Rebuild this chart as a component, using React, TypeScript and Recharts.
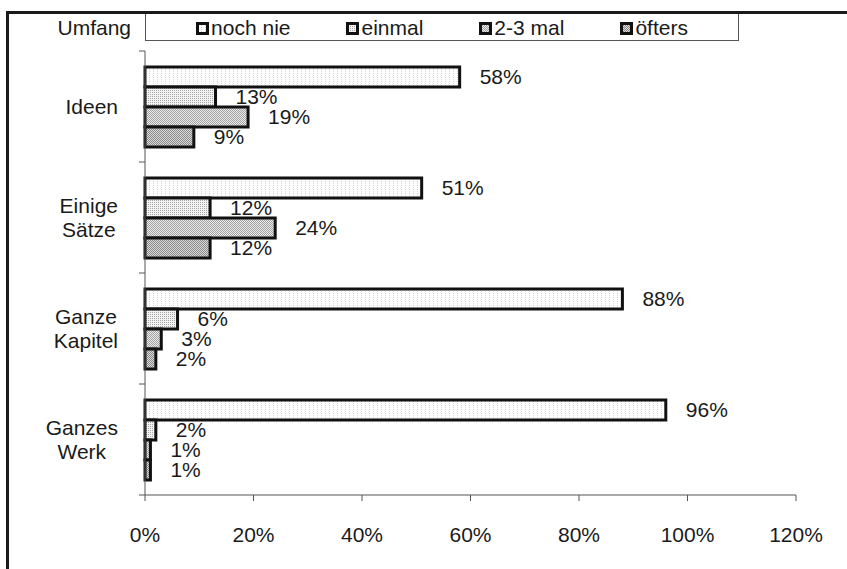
import { BarChart, Bar, XAxis, YAxis, LabelList } from "recharts";

const categories = ["Ideen", "Einige Sätze", "Ganze Kapitel", "Ganzes Werk"];
const nochNie = [58, 51, 88, 96];
const einmal = [13, 12, 6, 2];
const zweiDreiMal = [19, 24, 3, 1];
const oefters = [9, 12, 2, 1];
const seriesNames = ["noch nie", "einmal", "2-3 mal", "öfters"];
const xTicks = [0, 20, 40, 60, 80, 100, 120];

const WIDTH = 847;
const HEIGHT = 569;
const MARGIN = { top: 51, right: 51, bottom: 0, left: 0 };
const X_AXIS_HEIGHT = 74;
const Y_AXIS_WIDTH = 145;
const PLOT_HEIGHT = HEIGHT - MARGIN.top - MARGIN.bottom - X_AXIS_HEIGHT;
const FONT = '"Liberation Sans", Arial, sans-serif';
const FONT_SIZE = 21;
const INK = "#1a1a1a";
const AXIS = "#555";

const data = categories.map((name, i) => ({
  name,
  s0: nochNie[i],
  s1: einmal[i],
  s2: zweiDreiMal[i],
  s3: oefters[i],
}));

const ctx = document.createElement("canvas").getContext("2d");
function textWidth(s: string) {
  if (!ctx) return s.length * 10;
  ctx.font = `${FONT_SIZE}px ${FONT}`;
  return ctx.measureText(s).width;
}

// category labels: wrapped on spaces, centered block, plus band boundary ticks
function CategoryTick(props: any) {
  const { x, y, payload, index } = props;
  const lines = String(payload.value).split(" ");
  const blockW = Math.max(...lines.map(textWidth));
  const cx = x - blockW / 2;
  const lineH = 24;
  const top = y - ((lines.length - 1) * lineH) / 2;
  const band = PLOT_HEIGHT / categories.length;
  return (
    <g>
      <line x1={Y_AXIS_WIDTH - 6} x2={Y_AXIS_WIDTH} y1={y - band / 2} y2={y - band / 2} stroke={AXIS} />
      {index === categories.length - 1 && (
        <line x1={Y_AXIS_WIDTH - 6} x2={Y_AXIS_WIDTH} y1={y + band / 2} y2={y + band / 2} stroke={AXIS} />
      )}
      <text x={cx} textAnchor="middle" fontSize={FONT_SIZE} fontFamily={FONT} fill={INK}>
        {lines.map((l, i) => (
          <tspan key={i} x={cx} y={top + i * lineH} dy="0.36em">
            {l}
          </tspan>
        ))}
      </text>
    </g>
  );
}

function Patterns() {
  return (
    <svg width={0} height={0} style={{ position: "absolute" }}>
      <defs>
        <pattern id="pat0" width="4" height="4" patternUnits="userSpaceOnUse">
          <rect width="4" height="4" fill="#fefefe" />
          <rect x="1" y="1" width="1" height="1" fill="#cccccc" />
          <rect x="1" y="3" width="1" height="1" fill="#dddddd" />
        </pattern>
        <pattern id="pat1" width="2" height="2" patternUnits="userSpaceOnUse">
          <rect width="2" height="2" fill="#f2f2f2" />
          <rect x="0" y="0" width="1" height="1" fill="#a8a8a8" />
        </pattern>
        <pattern id="pat2" width="2" height="2" patternUnits="userSpaceOnUse">
          <rect width="2" height="2" fill="#ececec" />
          <rect x="0" y="0" width="1" height="1" fill="#a0a0a0" />
          <rect x="1" y="1" width="1" height="1" fill="#a0a0a0" />
        </pattern>
        <pattern id="pat3" width="2" height="2" patternUnits="userSpaceOnUse">
          <rect width="2" height="2" fill="#dcdcdc" />
          <rect x="0" y="0" width="1" height="1" fill="#888" />
          <rect x="1" y="1" width="1" height="1" fill="#888" />
        </pattern>
      </defs>
    </svg>
  );
}

function LegendBox() {
  return (
    <div
      style={{
        position: "absolute",
        left: 0,
        top: 12,
        width: 740,
        height: 29,
        fontFamily: FONT,
        fontSize: FONT_SIZE,
        color: INK,
      }}
    >
      <div style={{ position: "absolute", right: 740 - 131, top: 0, lineHeight: "32px" }}>Umfang</div>
      <div
        style={{
          position: "absolute",
          left: Y_AXIS_WIDTH,
          top: 0,
          width: 594,
          height: 29,
          border: `1px solid ${AXIS}`,
          boxSizing: "border-box",
          background: "#fff",
          display: "flex",
          alignItems: "center",
          justifyContent: "center",
          gap: 56,
          paddingTop: 3,
        }}
      >
        {seriesNames.map((n, i) => (
          <span key={n} style={{ display: "flex", alignItems: "center" }}>
            <svg width={13} height={13} style={{ marginRight: 2 }}>
              <rect x={1.5} y={1.5} width={10} height={10} fill={`url(#pat${i})`} stroke="#111" strokeWidth={3} />
            </svg>
            {n}
          </span>
        ))}
      </div>
    </div>
  );
}

export default function App() {
  const labelProps = {
    position: "right" as const,
    offset: 20,
    fontSize: FONT_SIZE,
    fontFamily: FONT,
    fill: INK,
    formatter: (v: any) => `${v}%`,
  };
  return (
    <div style={{ position: "absolute", left: 0, top: 0, width: WIDTH, height: HEIGHT, background: "#fff" }}>
      <Patterns />
      <BarChart
        width={WIDTH}
        height={HEIGHT}
        data={data}
        layout="vertical"
        margin={MARGIN}
        barGap={0}
      >
        <XAxis
          type="number"
          domain={[0, 120]}
          ticks={xTicks}
          interval={0}
          tickFormatter={(v) => `${v}%`}
          height={X_AXIS_HEIGHT}
          axisLine={{ stroke: AXIS }}
          tickLine={{ stroke: AXIS }}
          tickSize={6}
          tickMargin={26}
          tick={{ fontSize: FONT_SIZE, fill: INK, fontFamily: FONT }}
        />
        <YAxis
          type="category"
          dataKey="name"
          width={Y_AXIS_WIDTH}
          axisLine={{ stroke: AXIS }}
          tickLine={false}
          tickSize={6}
          tickMargin={21}
          interval={0}
          tick={<CategoryTick />}
        />
        {["s0", "s1", "s2", "s3"].map((key, i) => (
          <Bar
            key={key}
            dataKey={key}
            name={seriesNames[i]}
            fill={`url(#pat${i})`}
            stroke="#111"
            strokeWidth={3}
            barSize={20}
            isAnimationActive={false}
          >
            <LabelList dataKey={key} {...labelProps} />
          </Bar>
        ))}
      </BarChart>
      <LegendBox />
      <div
        style={{
          position: "absolute",
          left: 6,
          top: 11,
          width: WIDTH - 6,
          height: HEIGHT - 11,
          borderTop: `3px solid ${INK}`,
          borderLeft: `3px solid ${INK}`,
          boxSizing: "border-box",
          pointerEvents: "none",
        }}
      />
    </div>
  );
}
